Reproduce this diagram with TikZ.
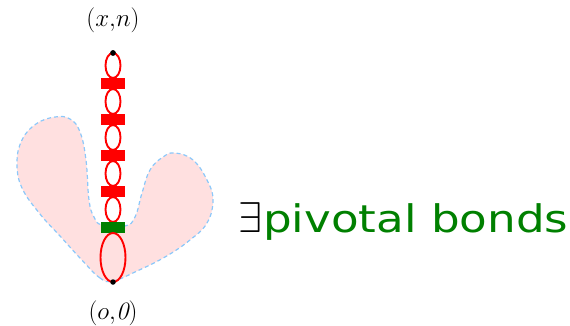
\RequirePackage{fix-cm}
\documentclass[tikz,border=0pt]{standalone}
\usepackage{fontspec}
\newfontfamily\claimfont[FakeStretch=1.19]{DejaVu Sans}
\usetikzlibrary{positioning, shapes.geometric}

\definecolor{bondgreen}{RGB}{0,128,0}
\definecolor{clusterfill}{RGB}{255,224,224}
\definecolor{clusterline}{RGB}{140,200,250}

\begin{document}
\begin{tikzpicture}[
    x=1pt, y=-1pt,
    dot/.style={circle, fill=black, inner sep=0pt, minimum size=5.5pt},
    loopbox/.style={ellipse, draw=red, line width=1.9pt, inner sep=0pt, outer sep=0pt, minimum width=15pt, minimum height=25pt},
    bigloop/.style={loopbox, minimum width=25pt, minimum height=49pt},
    bond/.style={rectangle, fill=red, inner sep=0pt, outer sep=0pt, minimum width=24pt, minimum height=11pt},
    pivot/.style={bond, fill=bondgreen},
    endlabel/.style={font=\fontsize{25}{29}\selectfont, inner sep=0pt},
    cluster/.style={fill=clusterfill, draw=clusterline, line width=1.2pt, dash pattern=on 4pt off 3pt}
]
\useasboundingbox (0,0) rectangle (570,326);

% cluster behind the path
\draw[cluster] plot[smooth cycle, tension=0.7] coordinates {
    (113,281) (100,278) (80,258) (60,236) (40,214) (22,188) (17,163) (22,140)
    (36,124) (55,117) (70,119) (80,132) (86,160) (89,200) (94,217) (102,225)
    (125,226) (135,217) (142,193) (150,170) (163,157) (175,153) (193,160)
    (207,180) (213,200) (207,223) (190,240) (165,257) (135,272)};

% chain of loops and bonds
\node[dot] (xn) at (113,53) {};
\node[loopbox, below=0pt of xn.center] (l1) {};
\node[bond, below=0pt of l1] (b1) {};
\node[loopbox, below=0pt of b1] (l2) {};
\node[bond, below=0pt of l2] (b2) {};
\node[loopbox, below=0pt of b2] (l3) {};
\node[bond, below=0pt of l3] (b3) {};
\node[loopbox, below=0pt of b3] (l4) {};
\node[bond, below=0pt of l4] (b4) {};
\node[loopbox, below=0pt of b4] (l5) {};
\node[pivot, below=0pt of l5] (piv) {};
\node[bigloop, below=0pt of piv] (l6) {};
\node[dot] (o) at (l6.south) {};
\node[dot] at (xn) {};

\node[endlabel, above=17pt of xn] (xnlabel) {$(x{,}n)$};
\node[endlabel, below=16pt of o] (olabel) {$(o{,}\mathit{0})$};

\node[anchor=base west, inner sep=0pt] (claim) at (238,232)
    {\fontsize{43}{48}\selectfont$\exists$\hspace{1pt}\claimfont\fontsize{38}{44}\selectfont\textcolor{bondgreen}{pivotal bonds}};
\end{tikzpicture}
\end{document}
